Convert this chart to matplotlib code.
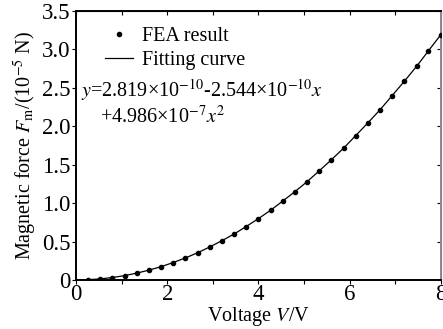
import matplotlib
matplotlib.use("Agg")
import matplotlib.pyplot as plt
from matplotlib.ticker import MultipleLocator

# data
voltage = [0.00, 0.27, 0.53, 0.80, 1.07, 1.33, 1.60, 1.87, 2.13, 2.40,
           2.67, 2.93, 3.20, 3.47, 3.73, 4.00, 4.27, 4.53, 4.80, 5.07,
           5.33, 5.60, 5.87, 6.13, 6.40, 6.67, 6.93, 7.20, 7.47, 7.73, 8.00]
force = [0.000, 0.004, 0.014, 0.032, 0.057, 0.089, 0.128, 0.174, 0.227, 0.287,
         0.355, 0.429, 0.511, 0.599, 0.695, 0.798, 0.908, 1.025, 1.149, 1.280,
         1.418, 1.564, 1.716, 1.876, 2.043, 2.216, 2.397, 2.585, 2.780, 2.982, 3.191]

xticks = [0, 2, 4, 6, 8]
yticks = [0, 0.5, 1.0, 1.5, 2.0, 2.5, 3.0, 3.5]
ytick_labels = ["0", "0.5", "1.0", "1.5", "2.0", "2.5", "3.0", "3.5"]

eq_line1 = r"$y$=2.819×10$^{-10}$-2.544×10$^{-10}$$x$"
eq_line2 = r"+4.986×10$^{-7}$$x^2$"

plt.rcParams['font.family'] = ['Liberation Serif', 'DejaVu Serif']
plt.rcParams['mathtext.fontset'] = 'stix'

fig = plt.figure(figsize=(4.43, 3.29), dpi=100)
ax = fig.add_axes([0.1716, 0.149, 0.8234, 0.8176])

ax.plot(voltage, force, color='black', linewidth=0.9, label='Fitting curve', zorder=2)
ax.plot(voltage[1:], force[1:], linestyle='none', marker='o', markersize=3,
        color='black', label='FEA result', zorder=3)

ax.set_xlim(0, 8)
ax.set_ylim(0, 3.5)
ax.set_xticks(xticks)
ax.xaxis.set_minor_locator(MultipleLocator(1))
ax.set_yticks(yticks)
ax.set_yticklabels(ytick_labels)

ax.tick_params(axis='both', which='both', direction='out', length=3, width=0.8,
               labelsize=16.5, pad=1)
ax.tick_params(axis='x', pad=0)

top = ax.secondary_xaxis('top')
top.set_xticks(range(0, 9))
top.tick_params(direction='in', length=3, width=0.8, labeltop=False)
right = ax.secondary_yaxis('right')
right.set_yticks(yticks)
right.tick_params(direction='in', length=3, width=0.8, labelright=False)
right.spines['right'].set_color('#888888')

for sp in ax.spines.values():
    sp.set_linewidth(1.4)
ax.spines['right'].set_color('#888888')

ax.set_xlabel('Voltage $V$/V', fontsize=14.5, labelpad=0)
ax.set_ylabel('Magnetic force $F_{\\mathrm{m}}$/(10$^{-5}$ N)', fontsize=14.5, labelpad=2)

h, l = ax.get_legend_handles_labels()
ax.legend(h[::-1], l[::-1], loc='upper left', bbox_to_anchor=(0.08, 0.94),
          frameon=False, fontsize=14.5, handlelength=1.4, handletextpad=0.45,
          borderpad=0, borderaxespad=0, labelspacing=0.25)

ax.text(0.013, 0.707, eq_line1, transform=ax.transAxes, fontsize=14.5, va='center')
ax.text(0.065, 0.604, eq_line2, transform=ax.transAxes, fontsize=14.5, va='center')

fig.savefig('out.png', dpi=100)
